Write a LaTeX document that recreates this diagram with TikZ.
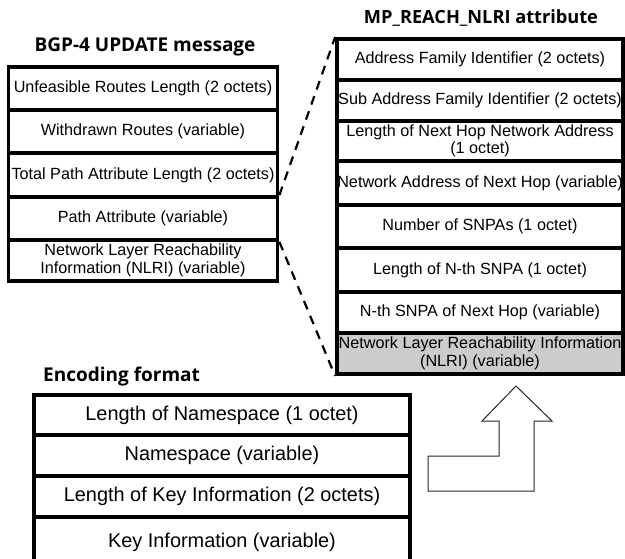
\documentclass[tikz,border=0pt]{standalone}
\usepackage{fontspec}
\setmainfont{Liberation Sans}
\newfontfamily\headfont{Open Sans}
\begin{document}
\begin{tikzpicture}[x=1pt,y=-1pt,
  cell/.style={draw=black, line width=3.8pt, inner sep=0pt, align=center,
    font=\fontsize{16.2}{17.5}\selectfont},
  lcell/.style={cell, minimum width=269pt},
  rcell/.style={cell, minimum width=286pt},
  bcell/.style={cell, minimum width=376pt, line width=4pt,
    font=\fontsize{19.9}{22}\selectfont},
  heading/.style={font=\headfont\bfseries\fontsize{19}{21}\selectfont, inner sep=0pt},
  link/.style={dashed, line width=2.2pt, dash pattern=on 9pt off 7pt},
  bigarrow/.style={draw=black!85, line width=1pt, fill=white}]
\useasboundingbox (0,0) rectangle (625,558);
\clip (0,0) rectangle (625,558);

% BGP-4 UPDATE message
\node[heading] (ht1) at (145,47) {BGP-4 UPDATE message};
\node[lcell, minimum height=43pt] (l1) at (143,88.5) {Unfeasible Routes Length (2 octets)};
\node[lcell, minimum height=43pt] (l2) at (143,131.5) {Withdrawn Routes (variable)};
\node[lcell, minimum height=44pt] (l3) at (143,175) {Total Path Attribute Length (2 octets)};
\node[lcell, minimum height=43pt] (l4) at (143,218.5) {Path Attribute (variable)};
\node[lcell, minimum height=41pt] (l5) at (143,260.5) {Network Layer Reachability\\Information (NLRI) (variable)};

% MP_REACH_NLRI attribute
\node[heading, font=\headfont\bfseries\fontsize{18.2}{21}\selectfont] (ht2) at (481,18) {MP\_REACH\_NLRI attribute};
\node[rcell, minimum height=41pt] (r1) at (480,59.5) {Address Family Identifier (2 octets)};
\node[rcell, minimum height=41pt] (r2) at (480,100.5) {Sub Address Family Identifier (2 octets)};
\node[rcell, minimum height=40pt] (r3) at (480,141) {Length of Next Hop Network Address\\(1 octet)};
\node[rcell, minimum height=44pt] (r4) at (480,183) {Network Address of Next Hop (variable)};
\node[rcell, minimum height=43pt] (r5) at (480,226.5) {Number of SNPAs (1 octet)};
\node[rcell, minimum height=44pt] (r6) at (480,270) {Length of N-th SNPA (1 octet)};
\node[rcell, minimum height=41pt] (r7) at (480,312.5) {N-th SNPA of Next Hop (variable)};
\node[rcell, minimum height=41pt, fill=black!20] (r8) at (480,353.5) {Network Layer Reachability Information\\(NLRI) (variable)};

% expansion of the Path Attribute field
\draw[link] (l4.north east) -- (r1.north west);
\draw[link] (l4.south east) -- (r8.south west);

% Encoding format
\node[heading, anchor=west] (ht3) at (43,377) {Encoding format};
\node[bcell, minimum height=40pt] (b1) at (222,415) {Length of Namespace (1 octet)};
\node[bcell, minimum height=41pt] (b2) at (222,455.5) {Namespace (variable)};
\node[bcell, minimum height=41pt] (b3) at (222,496.5) {Length of Key Information (2 octets)};
\draw[line width=4pt] (34,517) -- (34,575) (410,517) -- (410,575);
\node[font=\fontsize{19.9}{22}\selectfont, inner sep=0pt] (b4) at (222,542) {Key Information (variable)};

% bent arrow pointing up to the NLRI field
\draw[bigarrow] (516,386) -- (552,421) -- (534,421) -- (534,491) -- (428,491)
  -- (428,456) -- (499,456) -- (499,421) -- (482,421) -- cycle;
\end{tikzpicture}
\end{document}
